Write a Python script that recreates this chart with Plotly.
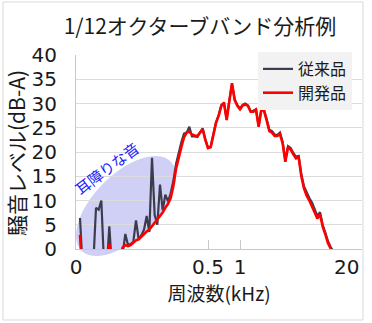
import numpy as np
import plotly.graph_objects as go

# ---- data (1/12 octave band index, 1 kHz = band 60, 0.5 kHz = band 48) ----
bands_conv = list(range(0, 96))
conv = [  # 従来品
    6.4, -4, -4, -4, -4, -3, 8.5, 8.1, 10.0, -3,
    -4, 4.7, -4, -4, -4, -4, -1.0, 3.1, 0.8, 1.0,
    1.5, 5.9, 2.0, 2.8, 4.0, 6.8, 3.5, 18.8, 7.0, 5.0,
    13.3, 8.0, 11.2, 9.8, 11.5, 14.0, 17.5, 20.0, 22.0, 23.8,
    24.0, 25.2, 23.2, 23.2, 23.1, 24.0, 24.9, 22.6, 20.9, 21.1,
    23.6, 26.1, 27.6, 29.7, 30.0, 26.8, 30.6, 34.0, 30.9, 29.7,
    29.0, 29.7, 30.0, 29.6, 28.4, 28.5, 28.8, 25.4, 28.8, 28.7,
    26.8, 24.6, 24.3, 23.6, 23.5, 24.0, 22.0, 18.3, 21.2, 20.8,
    19.8, 19.0, 19.2, 15.4, 12.9, 11.5, 10.5, 9.6, 8.3, 6.8,
    7.6, 5.0, 3.4, 1.6, 0.4, -0.5,
]
bands_dev = list(range(0, 95))
dev = [  # 開発品
    2.9, -6, -6, -6, -6, -6, -6, -6, -6, -6,
    -3, 1.0, -6, -6, -6, -1.5, 0.3, 0.8, 0.6, 0.8,
    1.4, 1.8, 2.0, 2.6, 3.0, 3.6, 4.0, 4.7, 5.5, 6.0,
    6.8, 7.5, 8.5, 9.3, 10.5, 13.0, 16.5, 19.0, 21.0, 23.0,
    24.0, 24.2, 23.6, 23.4, 23.3, 24.0, 24.7, 22.5, 20.8, 21.0,
    23.5, 26.0, 27.5, 29.5, 30.2, 26.6, 30.5, 34.2, 30.7, 29.5,
    28.8, 29.6, 29.8, 29.5, 28.3, 28.3, 28.7, 25.2, 28.7, 28.5,
    26.5, 24.3, 24.0, 23.3, 23.3, 23.7, 21.8, 18.0, 21.0, 20.5,
    19.5, 18.7, 18.9, 15.0, 12.5, 11.0, 10.0, 8.7, 7.5, 6.3,
    7.2, 4.6, 3.0, 1.2, 0.1,
]
tick_pos = [-1.5, 48, 60, 100]
tick_text = ["0", "0.5", "1", "20"]
minor_tick_pos = [48, 60]
y_ticks = list(range(0, 41, 5))

FONT = "Noto Sans CJK JP"
NUMFONT = "DejaVu Sans"
W, H = 372, 323
L, R, T, B = 76, 10, 55, 74
PW, PH = W - L - R, H - T - B

def to_paper(px, py):
    return (px - L) / PW, (H - B - py) / PH

fig = go.Figure()
fig.add_trace(go.Scatter(x=bands_conv, y=conv, mode="lines", name="従来品",
                         legendgroup="a",
                         line=dict(color="#3c3c4e", width=2.2)))
fig.add_trace(go.Scatter(x=bands_dev, y=dev, mode="lines", name="開発品",
                         legendgroup="b",
                         line=dict(color="#ff0000", width=2.6)))
# invisible trace for inner tick marks at 0.5 / 1 kHz
fig.add_trace(go.Scatter(x=[None], y=[None], xaxis="x2", showlegend=False))

# ellipse highlight (pixel-space parameters)
cx, cy, a, b, th = 126, 206, 63, 32, np.deg2rad(45)
t = np.linspace(0, 2 * np.pi, 80)
ex = cx + a * np.cos(t) * np.cos(th) - b * np.sin(t) * np.sin(th)
ey = cy - (a * np.cos(t) * np.sin(th) + b * np.sin(t) * np.cos(th))
pts = [to_paper(x, y) for x, y in zip(ex, ey)]
path = "M " + " L ".join(f"{x:.4f},{y:.4f}" for x, y in pts) + " Z"
fig.add_shape(type="path", path=path, xref="paper", yref="paper",
              fillcolor="rgba(150,150,235,0.45)", line=dict(width=0), layer="below")

# outer frame
fx0, fy0 = to_paper(3, 320)
fx1, fy1 = to_paper(363, 2)
fig.add_shape(type="rect", xref="paper", yref="paper", x0=fx0, y0=fy0, x1=fx1, y1=fy1,
              line=dict(color="#d9d9d9", width=1), layer="below")

ax_, ay_ = to_paper(106, 168)
fig.add_annotation(text="耳障りな音", x=ax_, y=ay_, xref="paper", yref="paper",
                   xanchor="center", yanchor="middle",
                   showarrow=False, textangle=-37,
                   font=dict(family=FONT, size=15, color="#1a1aff"))

# y-axis title
tx, ty = to_paper(16, 153)
fig.add_annotation(text="騒音レベル(dB-A)", x=tx, y=ty, xref="paper", yref="paper",
                   xanchor="center", yanchor="middle", showarrow=False, textangle=-90,
                   font=dict(family=FONT, size=21, color="#1a1a1a"))

fig.update_layout(
    width=W, height=H, autosize=False,
    margin=dict(l=L, r=R, t=T, b=B),
    paper_bgcolor="white", plot_bgcolor="white",
    font=dict(family=FONT, color="#1a1a1a"),
    title=dict(text="1/12オクターブバンド分析例", x=200 / W, xanchor="center",
               y=1 - 27 / H, yanchor="middle",
               font=dict(family=FONT, size=21, color="#1a1a1a")),
    xaxis=dict(range=[-1.5, 105.75], tickvals=tick_pos, ticktext=tick_text,
               ticks="", showgrid=False, zeroline=False,
               showline=True, linecolor="#c8c8c8", linewidth=1,
               tickfont=dict(size=20, family=NUMFONT),
               title=dict(text="周波数(kHz)", font=dict(size=19, family=FONT), standoff=0)),
    xaxis2=dict(range=[-1.5, 105.75], overlaying="x", side="bottom",
                tickvals=minor_tick_pos, showticklabels=False,
                ticks="inside", ticklen=9, tickcolor="#c8c8c8",
                showgrid=False, zeroline=False, showline=False),
    yaxis=dict(range=[0, 40], tickvals=y_ticks, showgrid=True, gridcolor="#dcdcdc",
               zeroline=False, showline=True, linecolor="#c8c8c8", linewidth=1,
               ticks="", tickfont=dict(size=20, family=NUMFONT), ticklabelstandoff=14),
    legend=dict(x=(258 - L) / PW, y=(H - B - 52) / PH, xanchor="left", yanchor="top",
                bgcolor="#f2f2f2", borderwidth=0,
                font=dict(size=16, family=FONT, color="#1a1a1a"),
                itemwidth=30, tracegroupgap=0),
    showlegend=True,
)

fig.write_html("out.html")
